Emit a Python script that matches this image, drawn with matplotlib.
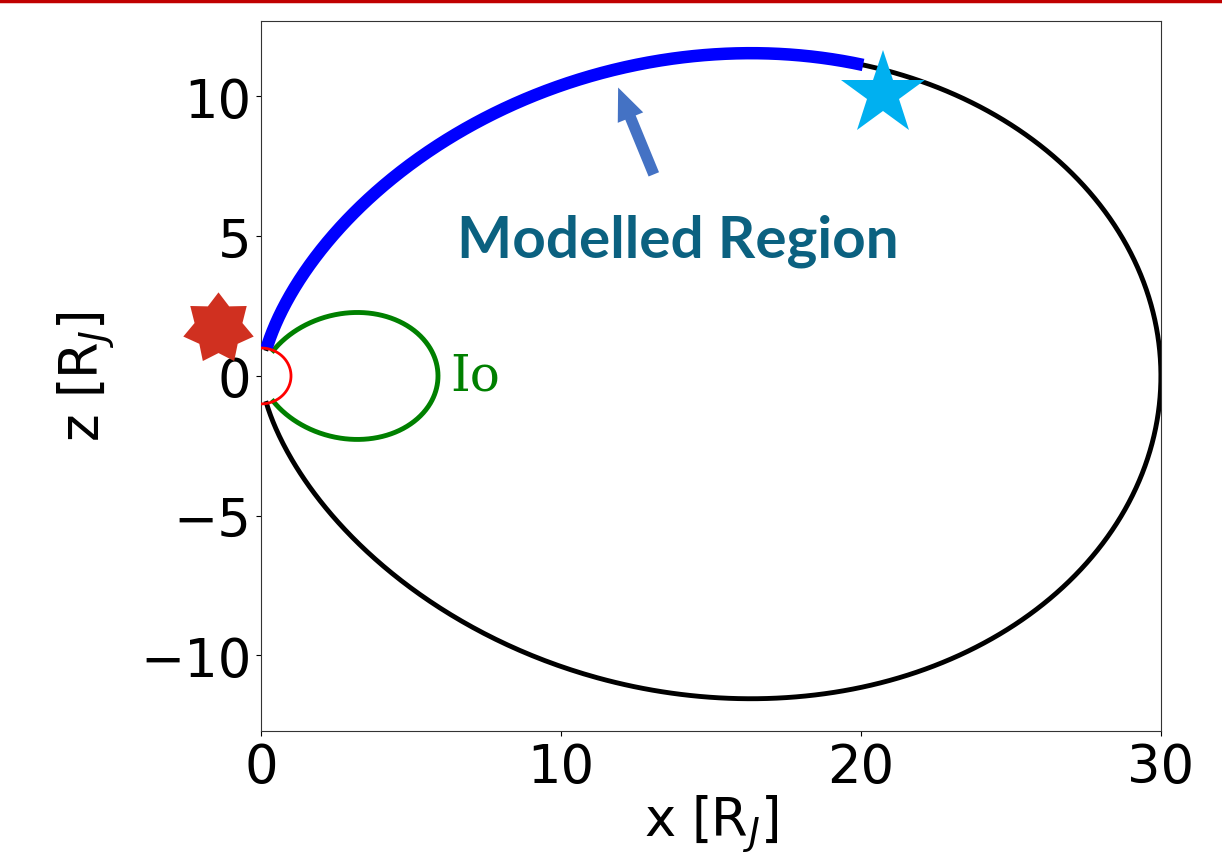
import matplotlib.pyplot as plt
import numpy as np
from matplotlib.lines import Line2D
from matplotlib.path import Path

# dipole L-shells (in Jupiter radii)
L_outer = 30.0
L_io = 5.9
r_planet = 1.0
# latitude (deg) where the modelled segment of the outer line ends
model_lat_end = 29.0

footprint_xy = (-1.45, 1.72)   # red marker
source_xy = (20.73, 10.09)     # cyan star
arrow_tail = (13.13, 7.12)
arrow_head = (11.87, 10.41)
label_xy = (13.9, 4.87)
io_label_xy = (6.3, 0.0)

xticks = [0, 10, 20, 30]
yticks = [-10, -5, 0, 5, 10]


def field_line(L, lat_from, lat_to, n=600):
    lat = np.radians(np.linspace(lat_from, lat_to, n))
    r = L * np.cos(lat) ** 2
    return r * np.cos(lat), r * np.sin(lat)


def foot_lat(L):
    return np.degrees(np.arccos(np.sqrt(r_planet / L)))


def heptagram(inner=0.68):
    ang = np.pi / 2 + np.arange(14) * np.pi / 7
    rad = np.where(np.arange(14) % 2 == 0, 1.0, inner)
    verts = np.column_stack([rad * np.cos(ang), rad * np.sin(ang)])
    verts = np.vstack([verts, verts[:1]])
    codes = [Path.MOVETO] + [Path.LINETO] * 13 + [Path.CLOSEPOLY]
    return Path(verts, codes)


fig = plt.figure(figsize=(12.22, 8.54), dpi=100)
ax = fig.add_axes([0.2136, 0.1429, 0.7364, 0.8314])

lat0 = foot_lat(L_outer)
x, z = field_line(L_outer, -lat0, lat0)
ax.plot(x, z, color="black", lw=3.5, zorder=2)
x, z = field_line(L_outer, model_lat_end, lat0)
ax.plot(x, z, color="#0000ff", lw=9, solid_capstyle="butt", zorder=3)

lat1 = foot_lat(L_io)
x, z = field_line(L_io, -lat1, lat1)
ax.plot(x, z, color="green", lw=3.5, zorder=2)

th = np.linspace(-np.pi / 2, np.pi / 2, 300)
ax.plot(r_planet * np.cos(th), r_planet * np.sin(th), color="red", lw=2, zorder=4)

ax.plot(*footprint_xy, marker=heptagram(), ms=52, color="#d03020", mec="#d03020",
        mew=0, clip_on=False, zorder=5)
ax.plot(*source_xy, marker="*", ms=64, color="#00b0f0", mec="#00b0f0", mew=0, zorder=5)

ax.annotate("", xy=arrow_head, xytext=arrow_tail,
            arrowprops=dict(arrowstyle="simple,head_length=1.3,head_width=1.1,tail_width=0.45",
                            color="#4472c4", lw=0, mutation_scale=18))
ax.text(*label_xy, "Modelled Region", color="#0b6180", fontsize=42,
        fontweight="bold", family="Lato", ha="center", va="center")
ax.text(*io_label_xy, "Io", color="green", fontsize=36, family="DejaVu Serif",
        ha="left", va="center")

ax.set_xlim(0, 30)
ax.set_ylim(-12.7, 12.7)
ax.set_xticks(xticks)
ax.set_yticks(yticks)
ax.tick_params(labelsize=38)
ax.set_xlabel(r"x [R$_J$]", fontsize=38, labelpad=0)
ax.set_ylabel(r"z [R$_J$]", fontsize=38, labelpad=16)
for s in ax.spines.values():
    s.set_color("#333333")

fig.add_artist(Line2D([0, 1], [0.998, 0.998], color="#c00000", lw=2.5))

fig.savefig("out.png", dpi=100)
